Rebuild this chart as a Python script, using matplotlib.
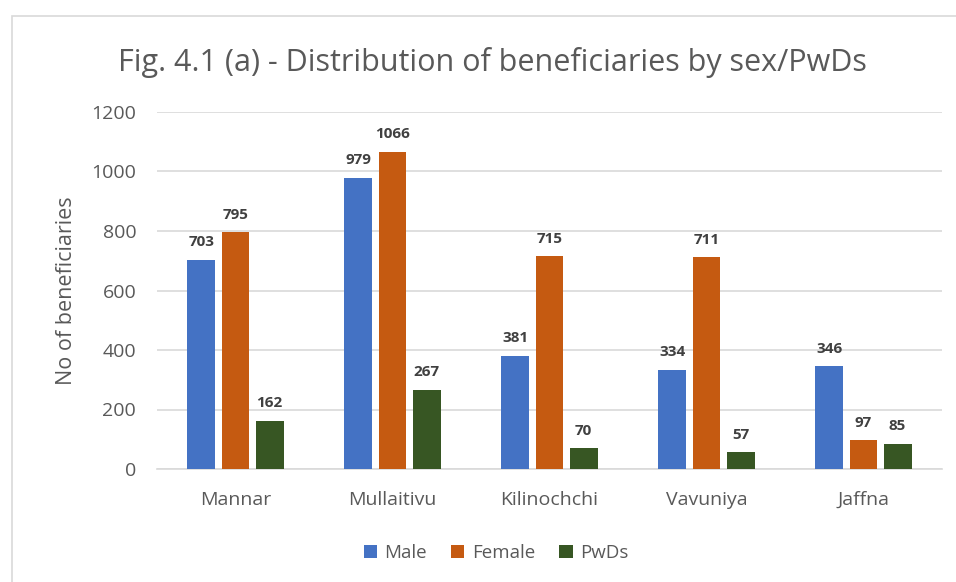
import numpy as np
import matplotlib.pyplot as plt
from matplotlib.patches import Rectangle

districts = ['Mannar', 'Mullaitivu', 'Kilinochchi', 'Vavuniya', 'Jaffna']
male = [703, 979, 381, 334, 346]
female = [795, 1066, 715, 711, 97]
pwds = [162, 267, 70, 57, 85]
series_names = ['Male', 'Female', 'PwDs']
colors = ['#4472C4', '#C55A11', '#375623']

plt.rcParams['font.family'] = ['Open Sans', 'DejaVu Sans']

fig = plt.figure(figsize=(9.56, 5.82), dpi=100)
ax = fig.add_axes([157 / 956, 1 - 469 / 582, 785 / 956, 357 / 582])

# chart border
fig.patches.append(Rectangle((12 / 956, -0.1), 1.2, 1 - 16 / 582 + 0.1,
                             transform=fig.transFigure, fill=False,
                             edgecolor='#d9d9d9', linewidth=1.2))

x = np.arange(len(districts))
w = 0.178
step = 0.217
for i, (vals, name, c) in enumerate(zip([male, female, pwds], series_names, colors)):
    bars = ax.bar(x + (i - 1) * step, vals, w, color=c, label=name, zorder=3)
    for b, v in zip(bars, vals):
        ax.text(b.get_x() + b.get_width() / 2, v + 35, str(v), ha='center', va='bottom',
                fontsize=11, fontweight='bold', color='#404040')

ax.set_xlim(-0.5, len(districts) - 0.5)
ax.set_ylim(0, 1200)
ax.set_yticks(range(0, 1201, 200))
ax.set_xticks(x)
ax.set_xticklabels(districts)
ax.tick_params(length=0, labelsize=14, labelcolor='#595959')
ax.tick_params(axis='y', pad=15)
ax.tick_params(axis='x', pad=16)
ax.grid(axis='y', color='#d9d9d9', linewidth=1.2, zorder=0)
for s in ['top', 'right', 'left']:
    ax.spines[s].set_visible(False)
ax.spines['bottom'].set_color('#d9d9d9')
ax.spines['bottom'].set_linewidth(1.2)
ax.set_ylabel('No of beneficiaries', fontsize=15.5, color='#595959', labelpad=10)

fig.text(492 / 956, 1 - 62 / 582, 'Fig. 4.1 (a) - Distribution of beneficiaries by sex/PwDs',
         ha='center', va='center', fontsize=22, color='#595959')

fig.legend(loc='center', bbox_to_anchor=(496 / 956, 1 - 553 / 582), ncol=3, frameon=False,
           fontsize=13.5, labelcolor='#595959', handlelength=0.7, handleheight=0.7,
           columnspacing=1.3, handletextpad=0.4)

fig.savefig('out.png', dpi=100)
